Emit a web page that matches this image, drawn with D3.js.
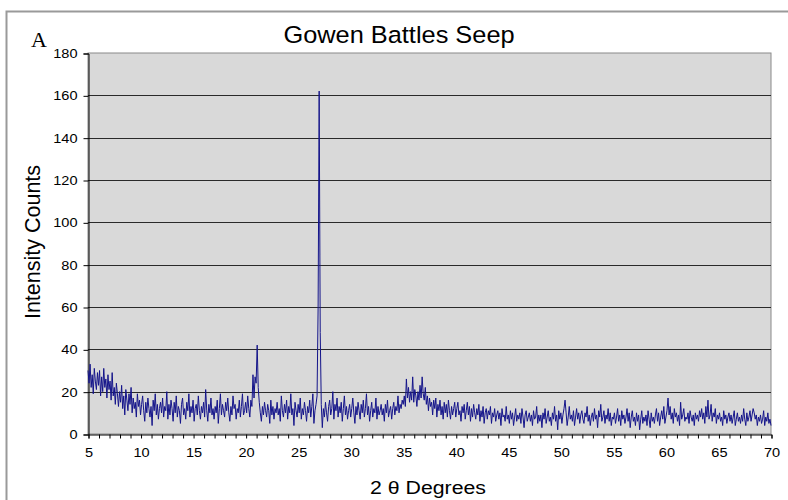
<!DOCTYPE html>
<html><head><meta charset="utf-8">
<script src="https://cdn.jsdelivr.net/npm/d3@7"></script>
<style>body{margin:0;background:#fff}svg{display:block}</style>
</head><body>
<svg id="c" width="788" height="500"></svg>
<script>
const title = "Gowen Battles Seep";
const panelLabel = "A";
const xLabel = "2 θ Degrees";
const yLabel = "Intensity Counts";
const xStart = 5, xStep = 0.1;
const xTicks = [5,10,15,20,25,30,35,40,45,50,55,60,65,70];
const yTicks = [0,20,40,60,80,100,120,140,160,180];
// intensity counts, one row per degree (5.0 .. 70.0, step 0.1)
const counts = [
30,24,33,22,28,19,31,25,21,29,
23,30,18,27,20,31,22,26,17,28,
21,25,16,29,18,22,14,24,19,13,
20,15,23,12,18,9,21,16,11,19,
14,22,10,17,12,15,8,19,13,16,
9,14,18,11,6,15,10,17,12,8,
13,4,16,11,19,9,14,7,12,15,
10,17,8,13,11,20,7,14,9,16,
12,6,15,10,18,8,13,11,5,14,
17,9,12,7,15,11,19,8,13,10,
16,6,12,14,9,18,11,7,13,10,
15,8,21,11,6,14,10,17,9,12,
7,13,10,16,5,12,19,9,14,11,
8,15,11,17,10,6,13,9,18,12,
14,7,12,10,16,8,13,19,9,11,
15,10,18,12,8,16,13,28,17,27,
24,42,22,15,10,6,13,9,15,11,
8,14,11,5,16,9,13,7,12,10,
15,9,12,6,18,11,8,14,10,16,
7,13,10,19,9,12,4,15,11,8,
14,10,17,7,12,9,15,11,6,13,
10,16,8,13,19,5,11,14,18,60,
162,48,14,3,12,8,15,10,6,13,
16,9,12,20,7,14,11,17,8,13,
10,15,6,12,18,9,13,7,11,14,
8,12,17,10,5,13,9,15,11,7,
14,10,16,8,12,19,9,13,6,11,
15,8,12,10,17,7,13,9,11,14,
9,12,6,14,10,16,8,11,13,7,
12,15,9,13,11,18,10,14,12,16,
14,18,13,26,17,22,15,20,16,27,
15,21,18,13,20,16,23,17,27,19,
16,22,14,18,11,17,13,15,9,16,
12,17,8,14,11,16,9,13,7,15,
10,14,8,16,11,7,13,9,12,15,
8,12,15,9,11,6,13,10,14,7,
11,15,9,13,6,12,8,14,10,7,
12,9,14,6,11,8,13,5,10,12,
7,11,9,13,5,10,8,12,6,9,
11,7,10,4,12,8,9,6,13,7,
9,5,11,7,10,4,8,12,6,9,
7,10,5,12,8,3,9,11,6,8,
10,6,9,4,11,7,8,13,5,9,
6,9,3,10,7,12,5,8,11,6,
8,4,10,7,13,6,9,2,11,7,
10,5,9,12,16,10,4,8,13,7,
9,6,11,4,8,12,7,10,5,9,
11,7,5,10,8,13,6,9,4,8,
10,6,12,7,9,3,11,8,14,6,
8,11,5,9,7,12,6,10,4,8,
7,10,5,8,12,6,9,4,11,7,
9,5,8,12,6,10,3,8,11,6,
8,4,10,6,9,2,7,11,5,8,
6,9,4,11,7,3,10,6,8,5,
9,12,6,10,4,8,11,7,13,5,
8,11,17,9,13,7,10,5,12,8,
10,6,9,4,15,7,9,12,6,8,
7,10,5,11,8,6,9,4,10,7,
9,6,11,8,12,7,10,5,13,8,
16,7,9,14,6,10,8,12,5,9,
7,10,6,8,4,11,7,9,5,8,
10,6,9,5,8,11,4,7,10,6,
8,5,9,6,12,7,4,10,6,8,
11,6,9,12,10,7,9,4,8,6,
9,5,7,11,4,8,6,10,5,7,
4
];
const data = counts.map((v,i)=>({x: +(xStart + i*xStep).toFixed(2), y: v}));

const svg = d3.select("#c");
const L = 88, R = 771, T = 53, B = 434;
const SX = 1.12; // horizontal stretch of the original text
const sans = "'Liberation Sans', Arial, sans-serif";
const x = d3.scaleLinear().domain([5,70]).range([L,R]);
const y = d3.scaleLinear().domain([0,180]).range([B,T]);

// chart frame
svg.append("path").attr("d","M6.5,500 V11.5 H788").attr("fill","none").attr("stroke","#9a9a9a").attr("stroke-width",2);

// plot area
svg.append("rect").attr("x",L).attr("y",T).attr("width",R-L).attr("height",B-T)
  .attr("fill","#d9d9d9").attr("stroke","#8a8a8a").attr("stroke-width",1);

// gridlines
svg.append("g").selectAll("line").data(yTicks.filter(d=>d>0 && d<180)).join("line")
  .attr("x1",L).attr("x2",R)
  .attr("y1",d=>Math.round(y(d))+0.5).attr("y2",d=>Math.round(y(d))+0.5)
  .attr("stroke","#2a2a2a").attr("stroke-width",1);

// y axis
const yAxis = d3.axisLeft(y).tickValues(yTicks).tickSize(5);
const gy = svg.append("g").attr("transform",`translate(${L+0.5},0.5)`).call(yAxis);
gy.select(".domain").attr("stroke","#000");
gy.selectAll(".tick line").attr("stroke","#000");
gy.selectAll("text").attr("font-family",sans).attr("font-size",13).attr("fill","#000")
  .attr("x",-11/SX).attr("transform",`scale(${SX},1)`);

// x axis: minor ticks every degree, labels every 5
const xMinor = d3.range(5,71,1);
const gxm = svg.append("g").attr("transform",`translate(0.5,${B+0.5})`)
  .call(d3.axisBottom(x).tickValues(xMinor).tickSize(4).tickFormat(""));
gxm.select(".domain").attr("stroke","#000");
gxm.selectAll(".tick line").attr("stroke","#000");
const gx = svg.append("g").attr("transform",`translate(0.5,${B+0.5})`)
  .call(d3.axisBottom(x).tickValues(xTicks).tickSize(0).tickPadding(13));
gx.select(".domain").remove();
gx.selectAll("text").attr("font-family",sans).attr("font-size",13).attr("fill","#000")
  .attr("transform",`scale(${SX},1)`);

// series
const line = d3.line().x(d=>x(d.x)).y(d=>y(d.y));
svg.append("path").datum(data).attr("d",line).attr("fill","none")
  .attr("stroke","#14148a").attr("stroke-width",1).attr("stroke-linejoin","round");

// texts
svg.append("text").attr("transform",`translate(399,43) scale(1.08,1)`).attr("text-anchor","middle")
  .attr("font-family",sans).attr("font-size",23.5).text(title);
svg.append("text").attr("x",31).attr("y",47)
  .attr("font-family","'Liberation Serif', 'Times New Roman', serif").attr("font-size",22).text(panelLabel);
svg.append("text").attr("transform","translate(40,242) rotate(-90)").attr("text-anchor","middle")
  .attr("font-family",sans).attr("font-size",21.5).text(yLabel);
svg.append("text").attr("transform","translate(428,494) scale(1.12,1)").attr("text-anchor","middle")
  .attr("font-family",sans).attr("font-size",19).text(xLabel);
</script>
</body></html>
